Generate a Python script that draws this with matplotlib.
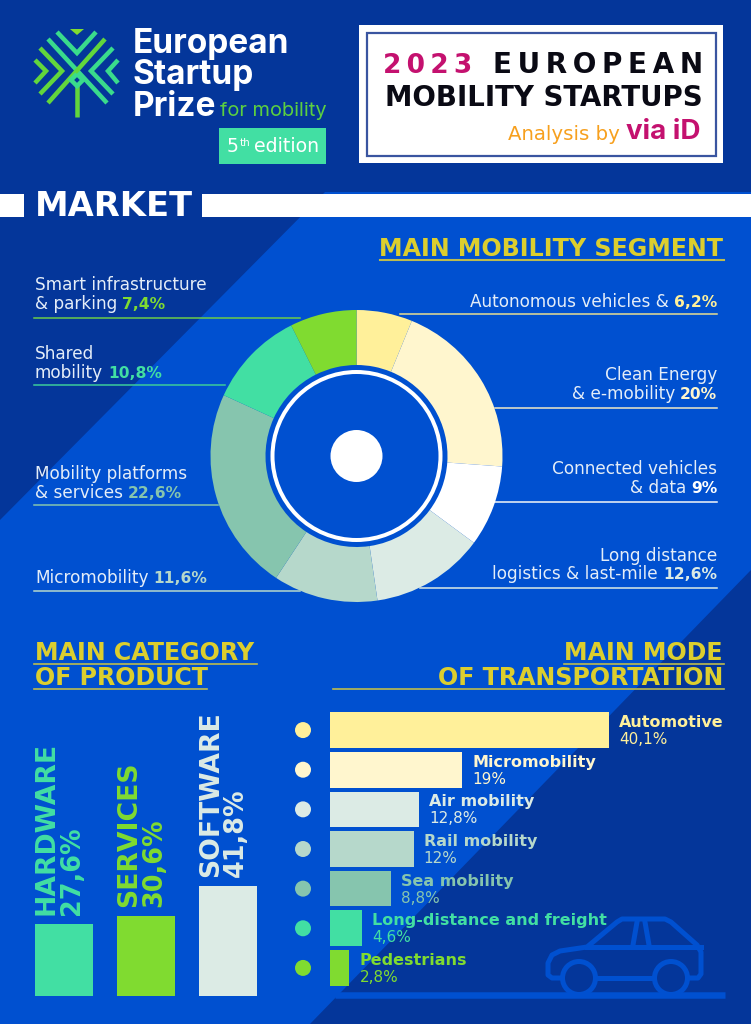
import matplotlib
matplotlib.use("Agg")
import matplotlib.pyplot as plt
from matplotlib.patches import Rectangle, Polygon, Circle

# ---- data ----
segment_names = ["Autonomous vehicles", "Clean Energy", "Connected vehicles", "Long distance",
                 "Micromobility", "Mobility platforms", "Shared mobility", "Smart infrastructure"]
segment_values = [6.2, 20, 9, 12.6, 11.6, 22.6, 10.8, 7.4]
segment_colors = ["#FFF09A", "#FFF6CE", "#FFFFFF", "#DCEBE5", "#B6D8CB", "#86C5AE", "#42DFA3", "#80DB30"]

product_names = ["HARDWARE", "SERVICES", "SOFTWARE"]
product_labels = ["27,6%", "30,6%", "41,8%"]
product_values = [27.6, 30.6, 41.8]
product_colors = ["#42DFA3", "#80DB30", "#DCEBE5"]

mode_names = ["Automotive", "Micromobility", "Air mobility", "Rail mobility",
              "Sea mobility", "Long-distance and freight", "Pedestrians"]
mode_labels = ["40,1%", "19%", "12,8%", "12%", "8,8%", "4,6%", "2,8%"]
mode_values = [40.1, 19, 12.8, 12, 8.8, 4.6, 2.8]
mode_colors = ["#FFF09A", "#FFF6CE", "#DCEBE5", "#B6D8CB", "#86C5AE", "#42DFA3", "#80DB30"]

DARK = "#04369A"
LIGHT = "#0050D0"
GOLD = "#DCCE2E"
GOLD_LINE = "#BDBB4E"
TXT = "#E4EDF8"
W, H = 751, 1024
PX = 0.72  # one pixel in points at dpi 100

plt.rcParams["font.family"] = ["DejaVu Sans"]

fig = plt.figure(figsize=(W / 100, H / 100), dpi=100, facecolor=DARK)
bg = fig.add_axes([0, 0, 1, 1], zorder=0)
bg.set_xlim(0, W)
bg.set_ylim(H, 0)
bg.axis("off")
renderer = fig.canvas.get_renderer()


def axes_px(x0, y0, x1, y1, zorder=2):
    # axes from pixel box, y counted from the top
    ax = fig.add_axes([x0 / W, 1 - y1 / H, (x1 - x0) / W, (y1 - y0) / H], zorder=zorder)
    ax.patch.set_alpha(0)
    return ax


def spaced(s, sep="\u2009"):
    return sep.join(s)


def label_left(x, y, txt, val, col, size=12.2):
    t = bg.text(x, y, txt, color=TXT, fontsize=size, va="baseline", ha="left", zorder=5)
    if val:
        e = t.get_window_extent(renderer)
        bg.text(e.x1 + 5, y, val, color=col, fontsize=11.2, fontweight="bold", va="baseline", ha="left", zorder=5)


def label_right(x, y, txt, val, col, size=12.2):
    if val:
        t = bg.text(x, y, val, color=col, fontsize=11.2, fontweight="bold", va="baseline", ha="right", zorder=5)
        x = t.get_window_extent(renderer).x0 - 5
    bg.text(x, y, txt, color=TXT, fontsize=size, va="baseline", ha="right", zorder=5)


# ---- background ----
bg.add_patch(Polygon([(325, 192), (751, 192), (751, 570), (310, 1024), (0, 1024), (0, 520)],
                     closed=True, fc=LIGHT, ec="none"))
bg.add_patch(Rectangle((0, 194), 24, 23, fc="white", ec="none"))
bg.add_patch(Rectangle((202, 194), 549, 23, fc="white", ec="none"))
bg.text(35, 216.5, "MARKET", color="white", fontsize=24.3, fontweight="bold", va="baseline")

# ---- logo ----
green1, green2 = "#62D63C", "#3ADB8C"
logo_lines = [
    ([48, 107], [39, 103]), ([105, 48], [39, 103]),
    ([57, 77, 96], [32, 53, 32]),
    ([35, 46, 35], [60, 71, 83]), ([118, 108, 118], [60, 71, 83]),
    ([40, 62, 40], [48, 71, 94]), ([113, 91, 113], [48, 71, 94]),
    ([77, 77], [85, 117]),
    ([77, 83, 77, 71, 77], [74, 80, 86, 80, 74]),
]
for i, (lx, ly) in enumerate(logo_lines):
    bg.plot(lx, ly, color=green1 if i % 2 else green2, lw=4.5 * PX, solid_capstyle="butt", solid_joinstyle="miter")
bg.add_patch(Polygon([(70, 29), (84, 29), (77, 35)], closed=True, fc="#80DB30", ec="none"))

bg.text(133, 53, "European", color="white", fontsize=24, fontweight="bold", family="Inter", va="baseline")
bg.text(133, 84, "Startup", color="white", fontsize=24, fontweight="bold", family="Inter", va="baseline")
bg.text(133, 116.5, "Prize", color="white", fontsize=24, fontweight="bold", family="Inter", va="baseline")
bg.text(220, 116.5, "for mobility", color="#5CD040", fontsize=14.4, family="Inter", va="baseline")

bg.add_patch(Rectangle((219, 128), 107, 36, fc="#42DFA3", ec="none"))
t5 = bg.text(227, 152, "5", color="white", fontsize=13.6, va="baseline")
tth = bg.text(t5.get_window_extent(renderer).x1 + 0.5, 146, "th", color="white", fontsize=7.5, va="baseline")
bg.text(tth.get_window_extent(renderer).x1 + 4, 152, "edition", color="white", fontsize=13.6, va="baseline")

# ---- title box ----
bg.add_patch(Rectangle((359, 25), 364, 138, fc="white", ec="none"))
bg.add_patch(Rectangle((367, 33), 349, 123, fc="none", ec="#3A55A0", lw=1.6))
bg.text(383, 73, spaced("2023"), color="#C4116F", fontsize=19, fontweight="bold", va="baseline")
bg.text(703, 73, spaced("EUROPEAN"), color="#0A0A14", fontsize=20.1, fontweight="bold", va="baseline", ha="right")
bg.text(703, 106, "MOBILITY STARTUPS", color="#0A0A14", fontsize=19.9, fontweight="bold", va="baseline", ha="right")
bg.text(508, 140, "Analysis by", color="#F7A01E", fontsize=14.2, va="baseline")
bg.text(700, 139, "via iD", color="#C4116F", fontsize=20, family="Inter", fontweight="bold", va="baseline", ha="right")

# ---- section titles ----
title_size = 17.1
bg.text(723, 256, "MAIN MOBILITY SEGMENT", color=GOLD, fontsize=title_size, fontweight="bold", ha="right", va="baseline")
bg.plot([380, 724], [260, 260], color=GOLD_LINE, lw=1.5)
bg.text(35, 660, "MAIN CATEGORY", color=GOLD, fontsize=title_size, fontweight="bold", va="baseline")
bg.plot([34, 257], [663.5, 663.5], color=GOLD_LINE, lw=1.2)
bg.text(35, 685, "OF PRODUCT", color=GOLD, fontsize=title_size, fontweight="bold", va="baseline")
bg.plot([34, 207], [689, 689], color=GOLD_LINE, lw=1.2)
bg.text(723, 660, "MAIN MODE", color=GOLD, fontsize=title_size, fontweight="bold", ha="right", va="baseline")
bg.plot([564, 724], [663.5, 663.5], color=GOLD_LINE, lw=1.2)
bg.text(723, 685, "OF TRANSPORTATION", color=GOLD, fontsize=title_size, fontweight="bold", ha="right", va="baseline")
bg.plot([333, 724], [689, 689], color=GOLD_LINE, lw=1.2)

# ---- donut ----
cx, cy, r_out = 356.5, 456, 146
pie_ax = axes_px(cx - r_out, cy - r_out, cx + r_out, cy + r_out)
pie_ax.pie(segment_values, colors=segment_colors, startangle=90, counterclock=False, radius=1,
           wedgeprops=dict(width=(r_out - 91) / r_out, linewidth=0))
pie_ax.set_xlim(-1, 1)
pie_ax.set_ylim(-1, 1)
pie_ax.add_patch(Circle((0, 0), 84 / r_out, fc="none", ec="white", lw=4 * PX))
pie_ax.add_patch(Circle((0, 0), 26 / r_out, fc="white", ec="none"))

# leader lines and labels
bg.plot([34, 300], [317.5, 317.5], color="#6CCB48", lw=1.1, zorder=1)
bg.plot([34, 225], [385, 385], color="#3CCB9A", lw=1.1, zorder=1)
bg.plot([34, 218], [505, 505], color="#86C5AE", lw=1.1, zorder=1)
bg.plot([34, 300], [591, 591], color="#B6D8CB", lw=1.1, zorder=1)
bg.plot([400, 717], [314, 314], color="#E8DE90", lw=1.1, zorder=1)
bg.plot([495, 717], [408, 408], color="#F0E8C8", lw=1.1, zorder=1)
bg.plot([495, 717], [502, 502], color="#F4F6F8", lw=1.1, zorder=1)
bg.plot([420, 717], [588, 588], color="#DCEBE5", lw=1.1, zorder=1)

label_left(35, 290, "Smart infrastructure", "", "")
label_left(35, 309, "& parking", "7,4%", segment_colors[7])
label_left(35, 359, "Shared", "", "")
label_left(35, 378, "mobility", "10,8%", segment_colors[6])
label_left(35, 479, "Mobility platforms", "", "")
label_left(35, 498, "& services", "22,6%", segment_colors[5])
label_left(35, 583, "Micromobility", "11,6%", segment_colors[4])
label_right(717, 307, "Autonomous vehicles &", "6,2%", segment_colors[0])
label_right(717, 380, "Clean Energy", "", "")
label_right(717, 399, "& e-mobility", "20%", segment_colors[1])
label_right(717, 474, "Connected vehicles", "", "")
label_right(717, 493, "& data", "9%", segment_colors[2])
label_right(717, 561, "Long distance", "", "")
label_right(717, 579, "logistics & last-mile", "12,6%", segment_colors[3])

# ---- car icon ----
car = "#0050D0"
car_lw = 5 * PX
bg.plot([335, 725], [995, 995], color=car, lw=6.5 * PX, solid_capstyle="butt", zorder=1)
bg.plot([562, 552, 548, 548, 552, 560, 587, 617, 622, 665, 671, 697, 701, 701, 698, 688],
        [978, 978, 975, 963, 955, 951, 947, 922, 919, 919, 922, 945, 952, 974, 978, 978],
        color=car, lw=car_lw, zorder=1, solid_joinstyle="round")
bg.plot([597, 653], [978, 978], color=car, lw=car_lw, zorder=1)
bg.plot([587, 701], [947, 947], color=car, lw=car_lw, zorder=1)
bg.plot([637, 633], [922, 945], color=car, lw=car_lw, zorder=1)
bg.plot([645, 649], [922, 945], color=car, lw=car_lw, zorder=1)
for wx in (579, 671):
    bg.add_patch(Circle((wx, 978), 16.5, fc="none", ec=car, lw=car_lw, zorder=1))

# ---- product columns ----
px_per_unit = 2.62
col_ax = axes_px(35, 700, 257, 996)
col_ax.bar(range(3), product_values, width=58 / 82, color=product_colors)
col_ax.set_xlim(-29 / 82, 2 + 29 / 82)
col_ax.set_ylim(0, 296 / px_per_unit)
col_ax.axis("off")
for i, (name, lab, val, col) in enumerate(zip(product_names, product_labels, product_values, product_colors)):
    left = i - 29 / 82
    col_ax.annotate(name, (left, val), xytext=(19 * PX, 9 * PX), textcoords="offset points", rotation=90,
                    rotation_mode="anchor", ha="left", va="baseline", color=col, fontsize=19.2,
                    fontweight="bold", annotation_clip=False)
    col_ax.annotate(lab, (left, val), xytext=(44 * PX, 9 * PX), textcoords="offset points", rotation=90,
                    rotation_mode="anchor", ha="left", va="baseline", color=col, fontsize=18.4,
                    fontweight="bold", annotation_clip=False)

# ---- transport modes ----
scale = 6.96
pitch = 39.5
bar_ax = axes_px(330, 730 - pitch / 2, 751, 968 + pitch / 2)
pos = list(range(len(mode_values)))
bar_ax.barh(pos, mode_values, height=35.5 / pitch, color=mode_colors)
bar_ax.set_xlim(0, 421 / scale)
bar_ax.set_ylim(len(pos) - 0.5, -0.5)
bar_ax.axis("off")
bar_ax.scatter([-27 / scale] * len(pos), pos, s=(16 * PX) ** 2, color=mode_colors, clip_on=False, linewidths=0)
for y, name, lab, val, col in zip(pos, mode_names, mode_labels, mode_values, mode_colors):
    bar_ax.annotate(name, (val, y), xytext=(10 * PX, 3 * PX), textcoords="offset points", color=col,
                    fontsize=11.5, fontweight="bold", va="baseline", annotation_clip=False)
    bar_ax.annotate(lab, (val, y), xytext=(10 * PX, -14 * PX), textcoords="offset points", color=col,
                    fontsize=11, va="baseline", annotation_clip=False)

fig.savefig("out.png", dpi=100, facecolor=DARK)
